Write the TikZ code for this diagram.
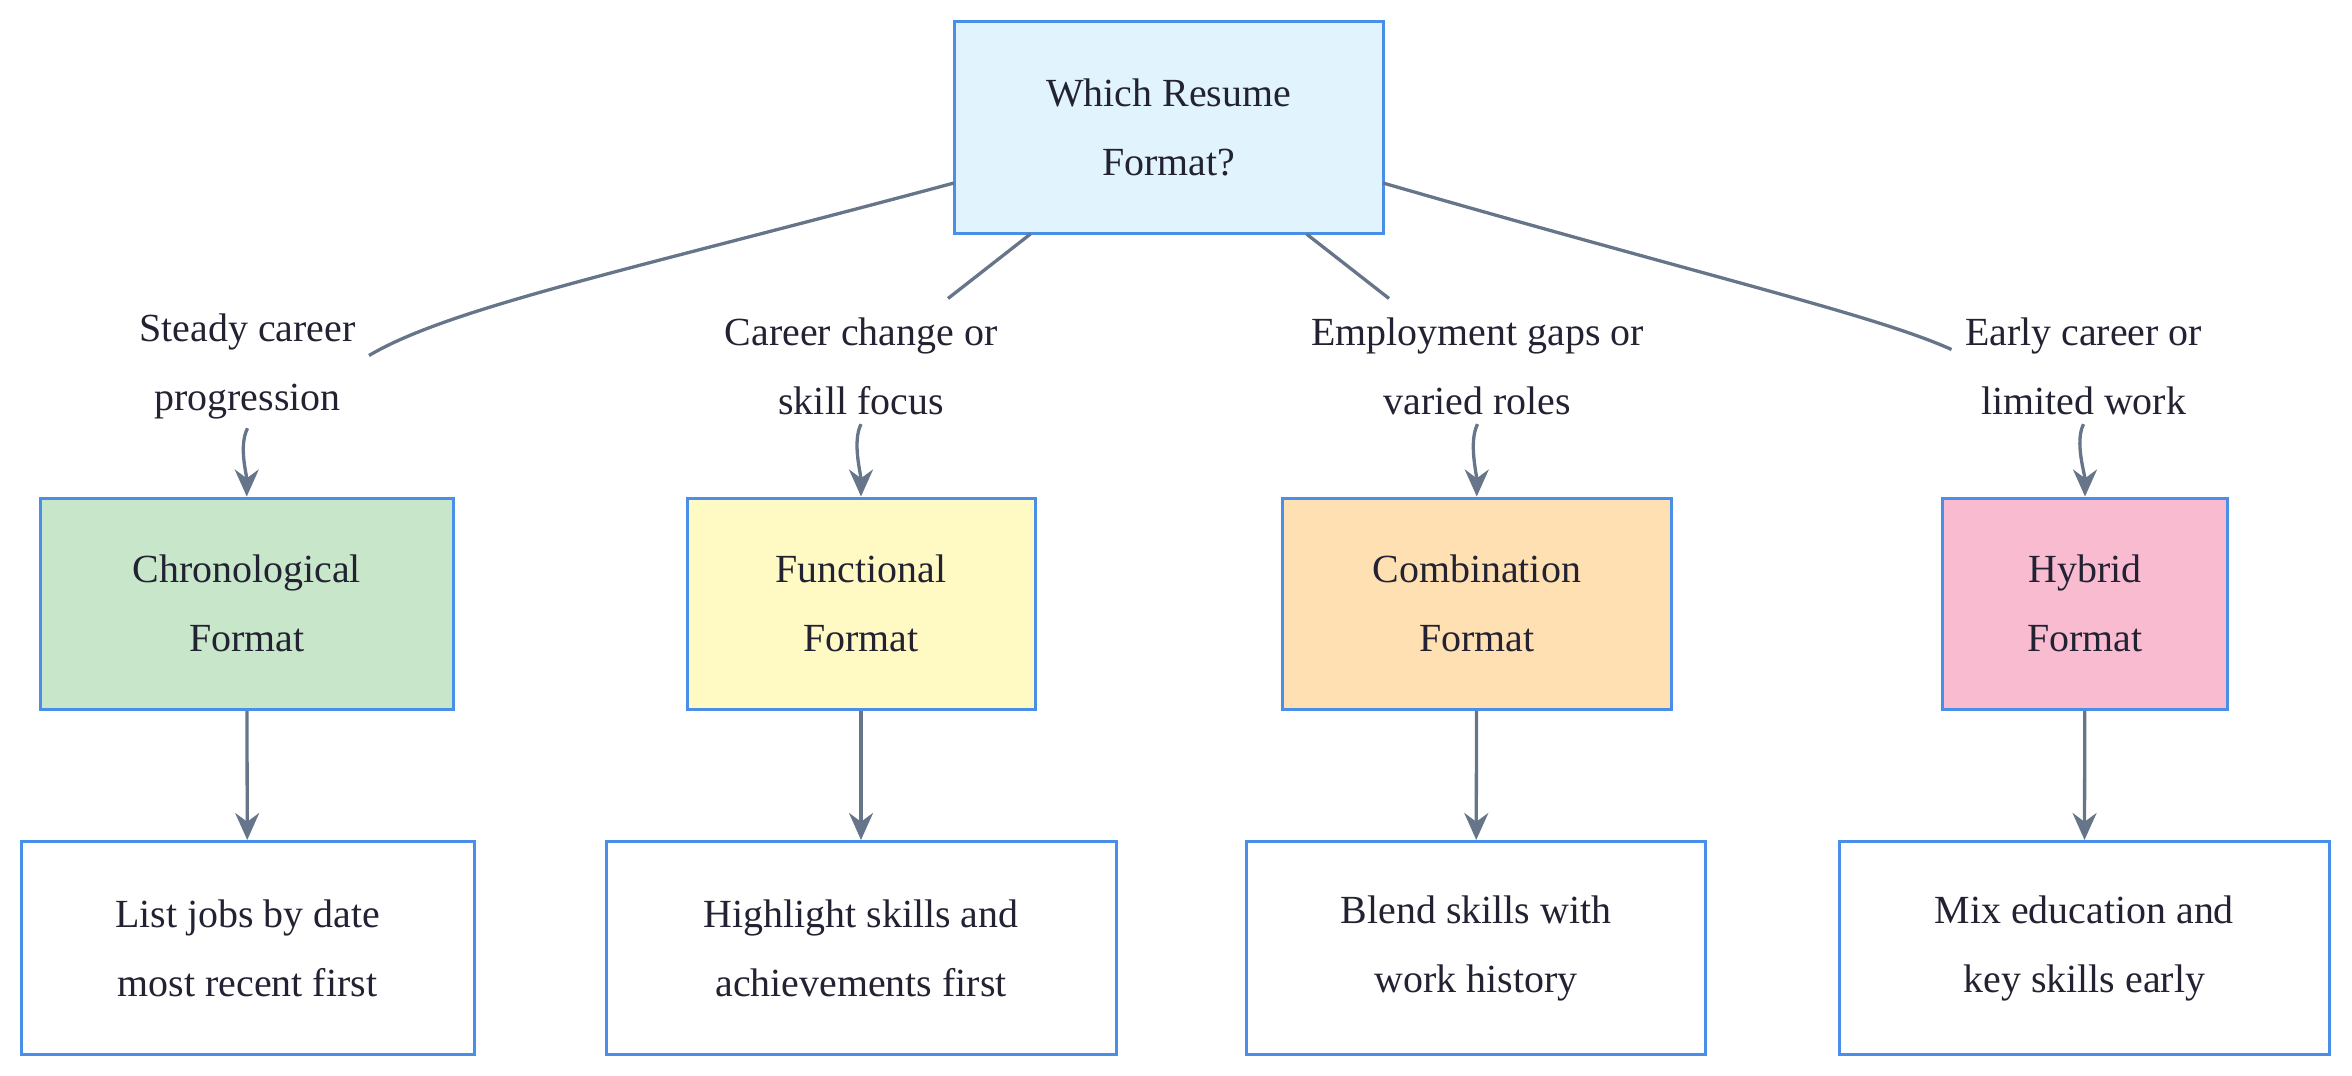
\documentclass[tikz,border=0pt]{standalone}
\usepackage{fontspec}
\setmainfont{Liberation Serif}
\usetikzlibrary{arrows.meta}
\definecolor{bd}{HTML}{4A8FE7}
\definecolor{ln}{HTML}{667589}
\definecolor{tx}{HTML}{222233}
\definecolor{qf}{HTML}{E1F3FD}
\tikzset{
 box/.style={draw=bd,line width=1pt,align=center,text=tx,inner sep=0pt},
 lbl/.style={align=center,text=tx,inner sep=1pt},
 ed/.style={draw=ln,line width=1.1pt},
 ar/.style={ed,-{Stealth[length=9pt,width=8pt]}}
}
\begin{document}
\begin{tikzpicture}[x=0.5pt,y=-0.5pt,font=\fontsize{13.3}{23}\selectfont]
\useasboundingbox (0,0) rectangle (1568,717);
\node[box,fill=qf,minimum width=143pt,minimum height=70.5pt] (q) at (779,85) {Which Resume\\Format?};
\node[lbl] (l1) at (165,244) {Steady career\\progression};
\node[lbl] (l2) at (574,244) {Career change or\\skill focus};
\node[lbl] (l3) at (985,244) {Employment gaps or\\varied roles};
\node[lbl] (l4) at (1389,244) {Early career or\\limited work};
\node[box,fill={rgb,255:red,200;green,230;blue,201},minimum width=137.5pt,minimum height=70.5pt] (a) at (164.5,402.5) {Chronological\\Format};
\node[box,fill={rgb,255:red,255;green,249;blue,196},minimum width=116pt,minimum height=70.5pt] (b) at (574,402.5) {Functional\\Format};
\node[box,fill={rgb,255:red,255;green,224;blue,178},minimum width=129.5pt,minimum height=70.5pt] (c) at (984.5,402.5) {Combination\\Format};
\node[box,fill={rgb,255:red,248;green,187;blue,208},minimum width=95pt,minimum height=70.5pt] (d) at (1390,402.5) {Hybrid\\Format};
\node[box,fill=white,minimum width=151pt,minimum height=71pt] (a2) at (165,632) {List jobs by date\\most recent first};
\node[box,fill=white,minimum width=170pt,minimum height=71pt] (b2) at (574,632) {Highlight skills and\\achievements first};
\node[box,fill=white,minimum width=153pt,minimum height=71pt] (c2) at (984,632) {Blend skills with\\work history};
\node[box,fill=white,minimum width=163.5pt,minimum height=71pt] (d2) at (1389.5,632) {Mix education and\\key skills early};
\coordinate (s1) at (636,122); \coordinate (e1) at (246,237);
\coordinate (s2) at (687,156); \coordinate (e2) at (632,199);
\coordinate (s3) at (871,156); \coordinate (e3) at (926,199);
\coordinate (s4) at (922,122); \coordinate (e4) at (1301,233);
\draw[ed] (s1) .. controls (420,180) and (300,205) .. (e1);
\draw[ed] (s2) -- (e2);
\draw[ed] (s3) -- (e3);
\draw[ed] (s4) .. controls (1140,185) and (1250,210) .. (e4);
\foreach \l/\n in {l1/a,l2/b,l3/c,l4/d}{
 \draw[ar] ([yshift=-2pt]\l.south) .. controls +(-6,12) and +(0,-15) .. (\n.north);
}
\foreach \n/\m in {a/a2,b/b2,c/c2,d/d2}{\draw[ar] (\n) -- (\m);}
\end{tikzpicture}
\end{document}
